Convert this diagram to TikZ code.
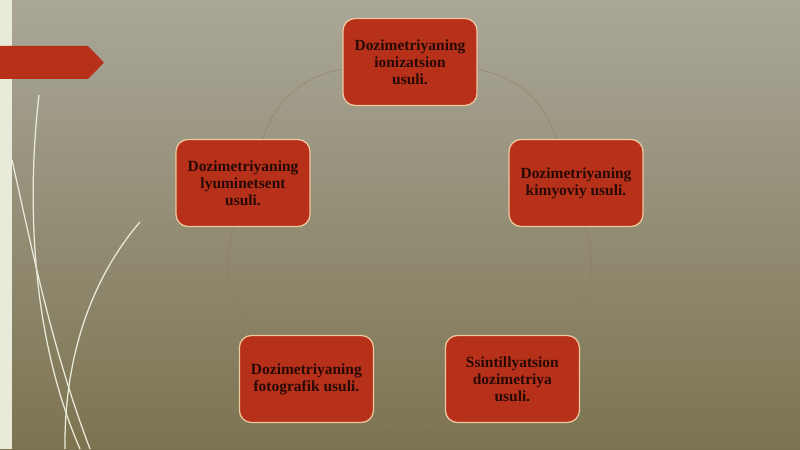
\documentclass[tikz,border=0pt]{standalone}
\usepackage{fontspec}
\setmainfont{Liberation Serif}
\definecolor{bgtop}{RGB}{170,167,153}
\definecolor{bgbot}{RGB}{124,115,80}
\definecolor{boxred}{RGB}{182,48,26}
\definecolor{boxrim}{RGB}{240,200,160}
\definecolor{strip}{RGB}{232,235,218}
\definecolor{ring}{RGB}{150,118,98}
\begin{document}
\begin{tikzpicture}[
    method/.style={draw=boxrim,line width=0.9pt,fill=boxred,rounded corners=0.3cm,
      minimum width=3.35cm,minimum height=2.175cm,align=center,
      font=\fontsize{11}{12.2}\selectfont\bfseries,text={rgb,255:red,40;green,10;blue,5}},
    ringarc/.style={draw=ring,line width=0.8pt,opacity=0.4},
    hair/.style={draw=strip,line width=0.9pt}]
  % background
  \shade[top color=bgtop,bottom color=bgbot] (0,0) rectangle (20,11.225);
  \useasboundingbox (0,0) rectangle (20,11.225);
  \fill[strip] (0,0) rectangle (0.3,11.225);
  \fill[boxred] (0,10.075) -- (2.2,10.075) -- (2.6,9.66) -- (2.2,9.25) -- (0,9.25) -- cycle;
  \draw[hair] (0.975,8.85) .. controls (0.7,6.5) and (0.7,3.0) .. (2.0,0);
  \draw[hair] (0.3,7.225) .. controls (0.8,5.0) and (1.3,2.5) .. (2.25,0);
  \draw[hair] (3.5,5.675) .. controls (2.4,4.4) and (1.6,2.5) .. (1.625,0);
  % methods
  \node[method] (ion) at (10.25,9.675) {Dozimetriyaning\\ionizatsion\\usuli.};
  \node[method] (kim) at (14.4,6.65) {Dozimetriyaning\\kimyoviy usuli.};
  \node[method] (ssi) at (12.81,1.75) {Ssintillyatsion\\dozimetriya\\usuli.};
  \node[method] (fot) at (7.66,1.75) {Dozimetriyaning\\fotografik usuli.};
  \node[method] (lyu) at (6.075,6.65) {Dozimetriyaning\\lyuminetsent\\usuli.};
  \draw[ringarc] (ion) to[bend left=30] (kim);
  \draw[ringarc] (kim) to[bend left=30] (ssi);
  \draw[ringarc] (ssi) to[bend left=30] (fot);
  \draw[ringarc] (fot) to[bend left=30] (lyu);
  \draw[ringarc] (lyu) to[bend left=30] (ion);
\end{tikzpicture}
\end{document}
